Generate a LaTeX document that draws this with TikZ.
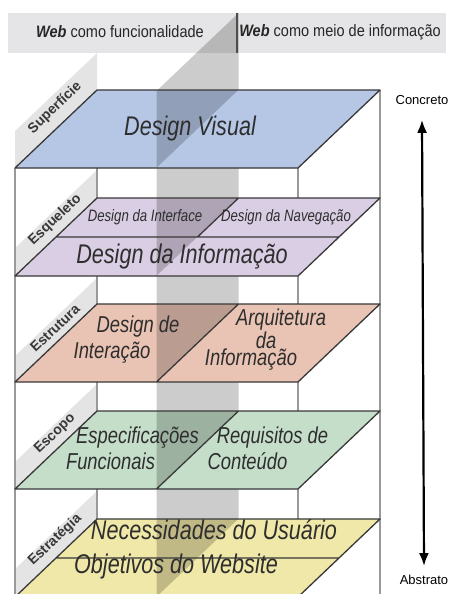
\documentclass[tikz,border=0pt]{standalone}
\usepackage{xcolor}
\usepackage{fontspec}
\usepackage{tikz}
\usetikzlibrary{positioning}
\usetikzlibrary{calc,arrows.meta}
\newfontfamily\camfont[FakeStretch=0.8]{Liberation Sans}
\newfontfamily\cabfont[FakeStretch=0.88]{Liberation Sans}
\newfontfamily\rotfont{Liberation Sans}

\definecolor{azul}{RGB}{182,199,230}
\definecolor{lilas}{RGB}{218,206,228}
\definecolor{salmao}{RGB}{233,196,180}
\definecolor{verde}{RGB}{197,222,202}
\definecolor{amarelo}{RGB}{240,232,168}
\definecolor{cabcinza}{RGB}{229,229,231}
\definecolor{painelcinza}{RGB}{228,228,229}

\tikzset{
  plano/.style = {draw=black!78, line width=1.3pt, line join=round},% contorno das camadas
  aresta/.style = {draw=black!40, line width=1.3pt},% arestas da caixa
  faixa/.style = {fill=black, fill opacity=0.2},% plano vertical do meio
  painel/.style = {fill=painelcinza},% painel lateral dos rotulos
  texto/.style = {text=black!82, align=center, inner sep=0pt},
  tam_g/.style = {texto, font=\camfont\itshape\fontsize{27}{30}\selectfont},
  tam_m/.style = {texto, font=\camfont\itshape\fontsize{23}{26}\selectfont},
  tam_a/.style = {texto, font=\camfont\itshape\fontsize{23}{17.5}\selectfont},
  tam_p/.style = {texto, font=\camfont\itshape\fontsize{16.5}{18}\selectfont},
  rotulo/.style = {font=\rotfont\bfseries\fontsize{14}{16}\selectfont,
    text=black!78, rotate=43.6, inner sep=0pt},% nome da camada
  cab/.style = {font=\cabfont\fontsize{16.5}{18}\selectfont, text=black!85,
    inner sep=0pt},
  extremo/.style = {font=\rotfont\fontsize{13}{15}\selectfont, inner sep=0pt},
  seta/.style = {{Latex[length=13pt,width=10pt]}-{Latex[length=13pt,width=10pt]},
    line width=2.2pt}
}

\begin{document}
\begin{tikzpicture}[x=1pt,y=-1pt]
\useasboundingbox (0,0) rectangle (450,594);
\clip (0,0) rectangle (450,594);
\fill[cabcinza] (8,13) rectangle (446,53);
% paineis laterais
\fill[painel] (15,168) -- (97,90) -- (97,53) -- (15,131) -- cycle;
\fill[painel] (15,276) -- (97,198) -- (97,170) -- (15,248) -- cycle;
\fill[painel] (15,382) -- (97,304) -- (97,278) -- (15,356) -- cycle;
\fill[painel] (15,489) -- (97,411) -- (97,384) -- (15,462) -- cycle;
\fill[painel] (15,597) -- (97,519) -- (97,491) -- (15,569) -- cycle;
\draw[aresta] (15,168) -- (15,600) (97,90) -- (97,600)
  (298,168) -- (298,600) (380,90) -- (380,600);
% camadas
\fill[azul] (15,168) -- (298,168) -- (380,90) -- (97,90) -- cycle;
\fill[lilas] (15,276) -- (298,276) -- (380,198) -- (97,198) -- cycle;
\fill[salmao] (15,382) -- (298,382) -- (380,304) -- (97,304) -- cycle;
\fill[verde] (15,489) -- (298,489) -- (380,411) -- (97,411) -- cycle;
\fill[amarelo] (15,597) -- (298,597) -- (380,519) -- (97,519) -- cycle;
\fill[faixa] (156.5,91) -- (238.5,13) -- (238.5,600) -- (156.5,600) -- cycle;
% metade da frente do plano vertical
\fill[azul] (156.5,168) -- (298,168) -- (380,90) -- (238.5,90) -- cycle;
\fill[lilas] (156.5,276) -- (298,276) -- (380,198) -- (238.5,198) -- cycle;
\fill[salmao] (156.5,382) -- (298,382) -- (380,304) -- (238.5,304) -- cycle;
\fill[verde] (156.5,489) -- (298,489) -- (380,411) -- (238.5,411) -- cycle;
\fill[amarelo] (156.5,597) -- (298,597) -- (380,519) -- (238.5,519) -- cycle;
\draw[plano] (15,168) -- (298,168) -- (380,90) -- (97,90) -- cycle;
\draw[plano] (15,276) -- (298,276) -- (380,198) -- (97,198) -- cycle
  (56,237) -- (339,237) (197.5,237) -- (238.5,198);
\draw[plano] (15,382) -- (298,382) -- (380,304) -- (97,304) -- cycle
  (156.5,382) -- (238.5,304);
\draw[plano] (15,489) -- (298,489) -- (380,411) -- (97,411) -- cycle
  (156.5,489) -- (238.5,411);
\draw[plano] (15,597) -- (298,597) -- (380,519) -- (97,519) -- cycle
  (56,558) -- (339,558);
\draw[black!70, line width=1.5pt] (237,13) -- (237,53);

\node[cab] (funcional) at (120,32) {\textbf{\textit{Web}} como funcionalidade};
\node[cab] (meio) at (340,32) {\textbf{\textit{Web}} como meio de informação};

\node[rotulo] (superficie) at (55,108) {Superfície};
\node[rotulo] (esqueleto) at (55,220) {Esqueleto};
\node[rotulo] (estrutura) at (55,328) {Estrutura};
\node[rotulo] (escopo) at (55,434) {Escopo};
\node[rotulo] (estrategia) at (55,540) {Estratégia};

\node[tam_g] (visual) at (190,129) {Design Visual};
\node[tam_p] (interface) at (145,217) {Design da Interface};
\node[tam_p] (navegacao) at (286,217) {Design da Navegação};
\node[tam_g] (informacao) at (182,257) {Design da Informação};
\node[tam_m] (interacao) at (125,340)
  {\hspace*{26pt}Design de\\Interação\hspace*{26pt}};
\node[tam_a] (arquitetura) at (266,340)
  {\hspace*{30pt}Arquitetura\\da\\Informação\hspace*{30pt}};
\node[tam_m] (especificacoes) at (124,448)
  {\hspace*{27pt}Especificações\\Funcionais\hspace*{27pt}};
\node[tam_m] (requisitos) at (260,448)
  {\hspace*{25pt}Requisitos de\\Conteúdo\hspace*{25pt}};
\node[tam_g] (necessidades) at (214,530) {Necessidades do Usuário};
\node[tam_g] (objetivos) at (176,567) {Objetivos do Website};

\node[extremo] (concreto) at (422,100) {Concreto};
\node[extremo] (abstrato) at (424,580) {Abstrato};
\draw[seta] ([yshift=-15pt]concreto.south) -- ([yshift=9pt]abstrato.north);
\end{tikzpicture}
\end{document}
